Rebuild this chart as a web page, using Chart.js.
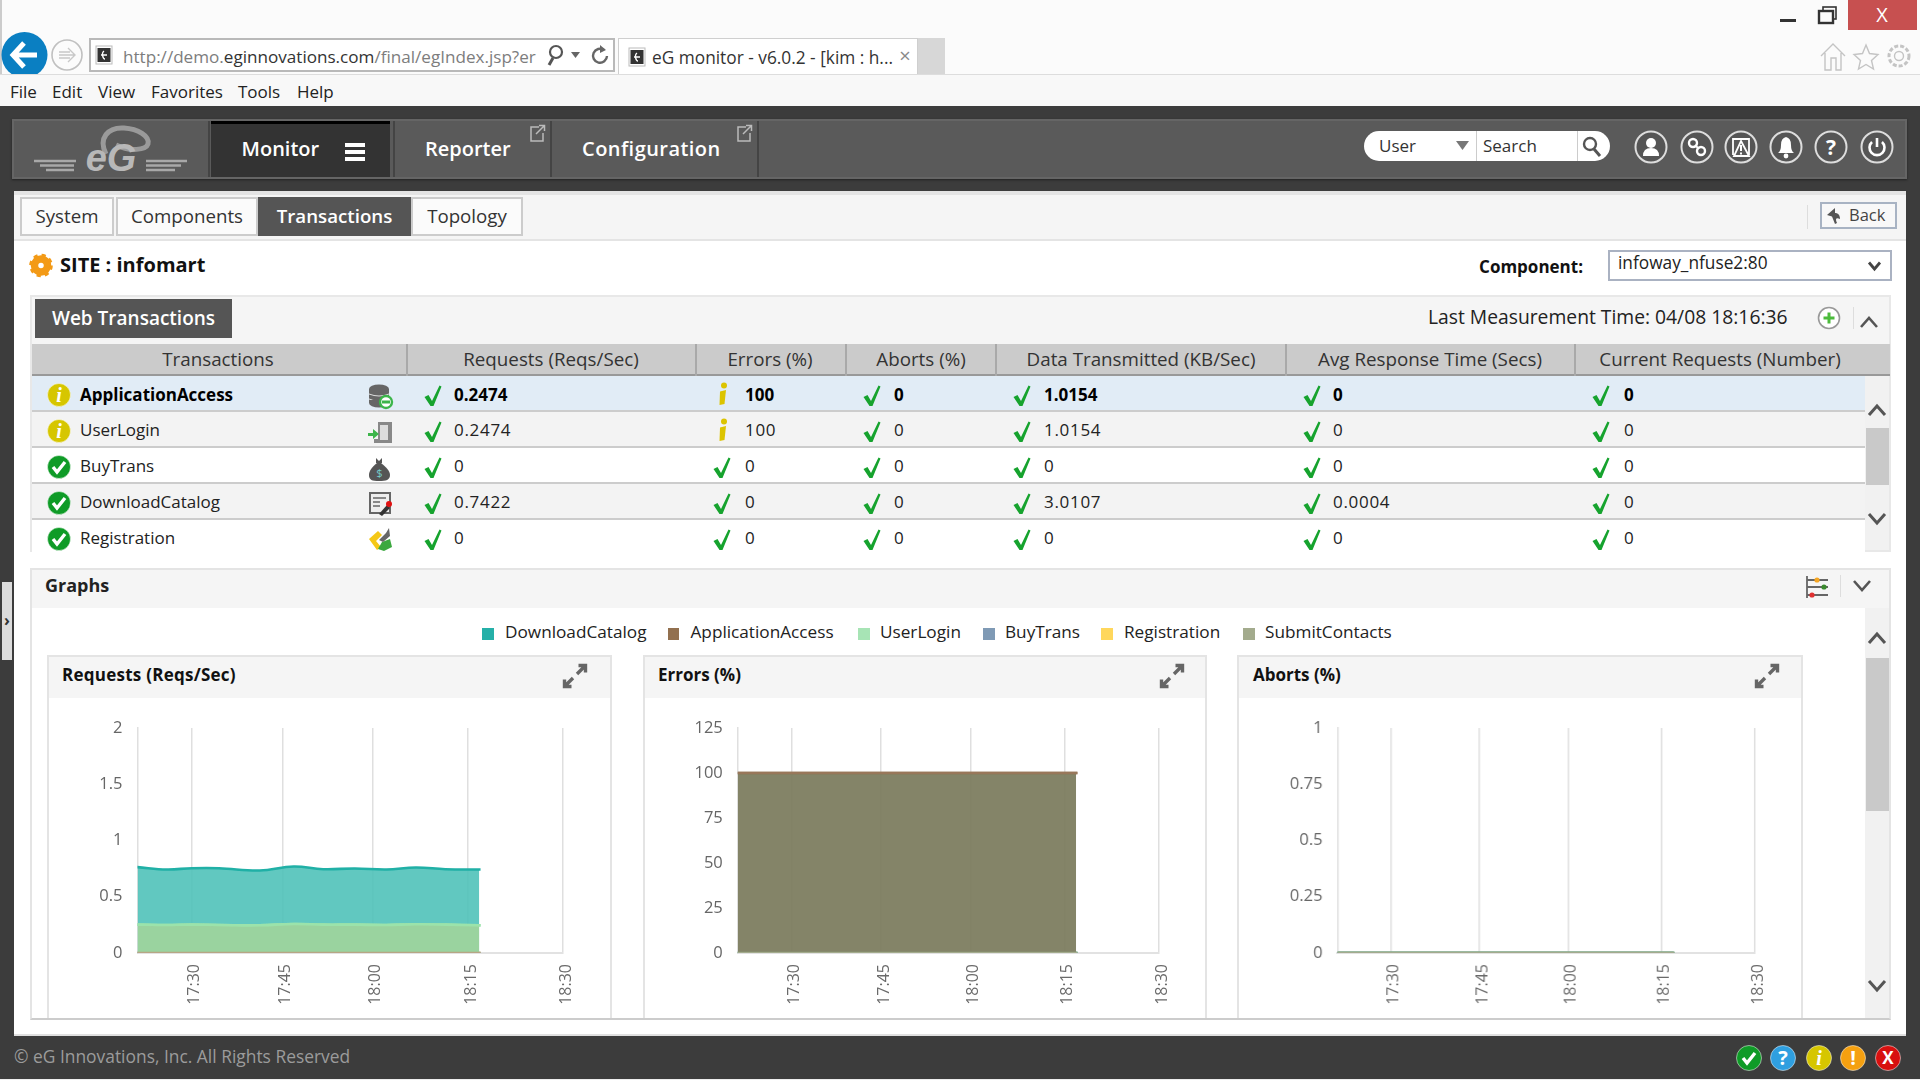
<!DOCTYPE html>
<html><head><meta charset="utf-8">
<style>
html,body{margin:0;padding:0;width:1920px;height:1080px;overflow:hidden;background:#fbfbfb;font-family:"Open Sans",sans-serif;color:#222}
.b{position:absolute;box-sizing:border-box}
.t{position:absolute;white-space:nowrap;line-height:1}
svg{position:absolute;overflow:visible}
canvas{position:absolute}
</style>
<script src="https://cdn.jsdelivr.net/npm/chart.js@4/dist/chart.umd.min.js"></script>
</head><body>
<script>
// ---- chart data ----
const seriesNames=['DownloadCatalog','ApplicationAccess','UserLogin','BuyTrans','Registration','SubmitContacts'];
const seriesColors=['#25b0a8','#92704f','#a7e4b5','#7f9ab5','#ffd75c','#a3ab8d'];
const sampleX=[0,6.5,12,18,27,34.5,41,48,55,61.5,68,75.5];
const tickSamples=[12,32,52,73,94];
const tickLabels=['17:30','17:45','18:00','18:15','18:30'];
const requestsDownload=[0.763,0.742,0.754,0.754,0.733,0.769,0.745,0.751,0.742,0.76,0.745,0.742];
const requestsUserLogin=[0.252,0.249,0.252,0.249,0.246,0.258,0.252,0.252,0.249,0.255,0.252,0.246];
const requestsZero=[0,0,0,0,0,0,0,0,0,0,0,0];
const errorsApplication=[100,100,100,100,100,100,100,100,100,100,100,100];
const errorsZero=[0,0,0,0,0,0,0,0,0,0,0,0];
const abortsZero=[0,0,0,0,0,0,0,0,0,0,0,0];
const requestsTicks=[0,0.5,1,1.5,2];
const errorsTicks=[0,25,50,75,100,125];
const abortsTicks=[0,0.25,0.5,0.75,1];
// ---- table data ----
const tableHeaders=['Transactions','Requests (Reqs/Sec)','Errors (%)','Aborts (%)','Data Transmitted (KB/Sec)','Avg Response Time (Secs)','Current Requests (Number)'];
const rowNames=['ApplicationAccess','UserLogin','BuyTrans','DownloadCatalog','Registration'];
const rowState=['info','info','ok','ok','ok'];
const colRequests=['0.2474','0.2474','0','0.7422','0'];
const colErrors=['100','100','0','0','0'];
const colAborts=['0','0','0','0','0'];
const colData=['1.0154','1.0154','0','3.0107','0'];
const colResponse=['0','0','0','0.0004','0'];
const colCurrent=['0','0','0','0','0'];

const FS='"Open Sans",sans-serif';
function box(x,y,w,h,css){const d=document.createElement('div');d.className='b';d.style.cssText=`left:${x}px;top:${y}px;width:${w}px;height:${h}px;${css||''}`;document.body.appendChild(d);return d;}
function text(s,x,cy,size,o){o=o||{};const d=document.createElement('div');d.className='t';d.textContent=s;
 let tx=o.center?'translate(-50%,-50%)':o.right?'translate(-100%,-50%)':'translateY(-50%)';
 d.style.cssText=`left:${x}px;top:${cy}px;font-size:${size}px;font-weight:${o.w||400};color:${o.c||'#222'};transform:${tx};letter-spacing:${o.ls||0}px;${o.css||''}`;
 document.body.appendChild(d);return d;}
function svg(x,y,w,h,inner){const s=document.createElementNS('http://www.w3.org/2000/svg','svg');s.setAttribute('width',w);s.setAttribute('height',h);s.setAttribute('viewBox',`0 0 ${w} ${h}`);s.style.left=x+'px';s.style.top=y+'px';s.innerHTML=inner;document.body.appendChild(s);return s;}
const chev=(cx,cy,up,c,w)=>svg(cx-10,cy-8,20,16,`<path d="${up?'M2 13L10 4L18 13':'M2 3L10 12L18 3'}" fill="none" stroke="${c||'#555'}" stroke-width="${w||3}"/>`);
const check=(cx,cy)=>svg(cx-9,cy-11,18,22,`<path d="M0.5 12L4.5 10L8 16L15.5 0.5L17.5 1.5L9.5 21L6.5 21Z" fill="#16a32e"/>`);
const statusDot=(cx,cy,kind,rx,ry)=>{rx=rx||12;ry=ry||12;
 const fill={ok:'#0f9b27',info:'#d6c600',help:'#2f9fe0',warn:'#f5a010',err:'#d8100f'}[kind];
 const g={ok:`<path d="M${rx-6} ${ry}l4 5l8 -10" fill="none" stroke="#fff" stroke-width="3.4"/>`,
  info:`<text x="${rx}" y="${ry+7}" font-size="20" font-style="italic" font-weight="700" font-family="Liberation Serif" text-anchor="middle" fill="#fff">i</text>`,
  help:`<text x="${rx}" y="${ry+7}" font-size="20" font-weight="700" font-family="Open Sans" text-anchor="middle" fill="#fff">?</text>`,
  warn:`<text x="${rx}" y="${ry+7}" font-size="20" font-weight="700" font-family="Open Sans" text-anchor="middle" fill="#fff">!</text>`,
  err:`<text x="${rx}" y="${ry+6}" font-size="17" font-weight="700" font-family="Open Sans" text-anchor="middle" fill="#fff">X</text>`}[kind];
 svg(cx-rx,cy-ry,rx*2,ry*2,`<ellipse cx="${rx}" cy="${ry}" rx="${rx-.5}" ry="${ry-.5}" fill="${fill}" stroke="#fff" stroke-opacity=".5"/>${g}`);};

// ---- browser chrome ----
box(0,0,1920,74,'background:#fbfbfb');
box(0,0,2,106,'background:#ccc');
box(1848,0,69,30,'background:#c75050');
text('X',1882,15,20,{center:1,c:'#fff'});
box(1780,19,16,3,'background:#333');
svg(1818,6,20,18,`<rect x="5" y="1" width="13" height="12" fill="none" stroke="#333" stroke-width="1.6"/><rect x="1" y="5" width="14" height="12" fill="#fbfbfb" stroke="#333" stroke-width="2.4"/>`);
svg(1,31,48,48,`<circle cx="23.5" cy="24" r="23" fill="#0a7fc2"/><path d="M13 24H36M23 12L12 24L23 36" fill="none" stroke="#fff" stroke-width="5"/>`);
svg(51,39,32,32,`<circle cx="16" cy="16" r="15" fill="#fbfbfb" stroke="#c0c0c0" stroke-width="1.6"/><path d="M8 16H23M17 9L24 16L17 23M8 13H19M8 19H19" fill="none" stroke="#c8c8c8" stroke-width="1.4"/>`);
box(89,38,526,34,'background:#fff;border:2px solid #b9b9b9');
const fav=(x,y)=>svg(x,y,18,20,`<rect x="1" y="1" width="16" height="18" fill="#fff" stroke="#bbb"/><rect x="2.5" y="3" width="13" height="14" fill="#333"/><path d="M6 10H12M9 6C6 8 8 14 10 14" fill="none" stroke="#fff" stroke-width="1.3"/>`);
fav(95,45);
const urlHead=text('http://demo.',123,57,17.1,{c:'#7d7d7d'});
const urlA=text('eginnovations.com',0,57,17.1,{c:'#333'});
const urlB=text('/final/egIndex.jsp?er',0,57,17.1,{c:'#7d7d7d'});
svg(544,44,22,24,`<circle cx="12" cy="8" r="6" fill="none" stroke="#555" stroke-width="2.2"/><path d="M9 14L5 21" stroke="#555" stroke-width="3"/>`);
svg(571,51,10,8,`<path d="M0 1H9L4.5 7Z" fill="#666"/>`);
svg(591,44,18,22,`<path d="M13 6A7 7 0 1 0 16 12" fill="none" stroke="#666" stroke-width="2.4"/><path d="M9 1L15 6L9 9Z" fill="#666"/>`);
box(618,38,300,36,'background:#fff;border:1px solid #cfcfcf;border-bottom:0');
fav(628,47);
text('eG monitor - v6.0.2 - [kim : h...',652,57.5,17.3,{c:'#333'});
text('×',905,56,20,{center:1,c:'#8a8a8a'});
box(918,38,27,36,'background:#d7d7d7');
svg(1819,42,28,30,`<path d="M2 14L14 2L26 14M6 11V28H12V16H17V28H22V11" fill="#fbfbfb" stroke="#c4c4c4" stroke-width="1.4"/>`);
svg(1853,43,26,28,`<path d="M13 2L16.5 10.5L25 11.5L18.5 17.5L20.5 26L13 21.5L5.5 26L7.5 17.5L1 11.5L9.5 10.5Z" fill="#fbfbfb" stroke="#c4c4c4" stroke-width="1.4"/>`);
svg(1887,43,26,28,`<circle cx="12" cy="13" r="10" fill="none" stroke="#c4c4c4" stroke-width="3" stroke-dasharray="4 2"/><circle cx="12" cy="13" r="4.5" fill="none" stroke="#c4c4c4" stroke-width="1.4"/>`);
box(0,74,1920,32,'background:#f8f8f8;border-top:1px solid #ddd');
[['File',10],['Edit',52],['View',98],['Favorites',151],['Tools',238],['Help',297]].forEach(m=>text(m[0],m[1],91,17,{c:'#222'}));

// ---- dark frame + nav ----
box(0,106,1920,974,'background:#3c3c3c');
box(12,119,1895,60,'background:#5a5a5a;border:2px solid #656565;box-shadow:0 1px 2px #222');
svg(34,126,154,46,`<path d="M0 35H42M6 39.5H40M12 44H40M153 35H112M147 39.5H112M141 44H112" stroke="#a8a8a8" stroke-width="2.6"/><path d="M72 28C64 12 74 1 90 2C104 3 116 10 114 18C112 24 96 26 82 19" fill="none" stroke="#9a9a9a" stroke-width="5"/><text x="77" y="45" font-family="Liberation Sans" font-weight="700" font-style="italic" font-size="38" fill="#b8b8b8" text-anchor="middle">eG</text>`);
box(211,121,179,56,'background:#333;border-top:3px solid #000');
text('Monitor',241.5,149,20,{c:'#fff',w:600});
box(345,143,20,3.5,'background:#fff');box(345,150,20,3.5,'background:#fff');box(345,157,20,3.5,'background:#fff');
[208,393,550,757].forEach(x=>box(x,121,2,56,'background:#444'));
text('Reporter',425,149,20,{c:'#fff',w:600});
text('Configuration',582,149,20,{c:'#fff',w:600,ls:.45});
[530,737].forEach(x=>svg(x,124,16,18,`<path d="M9 3H1V17H13V9M6 10L14 2M9 1.5H14.5V7" fill="none" stroke="#bbb" stroke-width="1.5"/>`));
box(1364,131,246,30,'background:#fff;border-radius:15px');
text('User',1379,145,17,{c:'#333'});
svg(1456,141,13,9,`<path d="M0 0H13L6.5 9Z" fill="#777"/>`);
box(1476,131,1,30,'background:#ccc');box(1577,131,1,30,'background:#ccc');
text('Search',1483,145,17,{c:'#333'});
svg(1582,136,20,22,`<circle cx="8" cy="8" r="6" fill="none" stroke="#555" stroke-width="2.4"/><path d="M12 13L18 20" stroke="#555" stroke-width="3"/>`);
const navGlyphs=[
 `<circle cx="17" cy="13" r="5" fill="#fff"/><path d="M9 26Q9 18 17 18Q25 18 25 26Z" fill="#fff"/>`,
 `<circle cx="13" cy="13" r="4" fill="none" stroke="#fff" stroke-width="2.4"/><circle cx="21" cy="21" r="4" fill="none" stroke="#fff" stroke-width="2.4"/><path d="M15 15L19 19" stroke="#fff" stroke-width="2"/>`,
 `<path d="M9 25V9H25V25M17 11L25 26H10Z" fill="#5a5a5a" stroke="#fff" stroke-width="1.8"/><path d="M17 15V21M17 22.5V24.5" stroke="#fff" stroke-width="2"/>`,
 `<path d="M17 7Q12 8 12 15Q12 21 9 23H25Q22 21 22 15Q22 8 17 7Z" fill="#fff"/><circle cx="17" cy="26" r="2.4" fill="#fff"/>`,
 `<text x="17" y="25" text-anchor="middle" font-size="21" font-weight="700" font-family="Open Sans" fill="#fff">?</text>`,
 `<path d="M12 12A7.5 7.5 0 1 0 22 12" fill="none" stroke="#fff" stroke-width="2.6"/><path d="M17 8V17" stroke="#fff" stroke-width="2.6"/>`];
[1651,1697,1741,1786,1831,1877].forEach((x,i)=>svg(x-17,130,34,34,`<circle cx="17" cy="17" r="15.5" fill="#555" stroke="#ddd" stroke-width="2"/>${navGlyphs[i]}`));

// ---- main white content ----
box(14,191,1892,845,'background:#fff');
box(14,191,1892,4,'background:#e4e4e4');
box(14,195,1892,44,'background:#f5f5f5');
box(14,239,1892,2,'background:#e4e4e4');
const tab=(x,w,s,act)=>{box(x,197,w,39,act?'background:#555':'background:#fbfbfb;border:2px solid #ccc');text(s,x+w/2,216,18.7,{center:1,c:act?'#fff':'#333',w:act?600:400});};
tab(20,94,'System');tab(116,142,'Components');tab(411,112,'Topology');tab(258,153,'Transactions',1);
box(1807,205,1,24,'background:#ddd');
box(1820,202,77,27,'background:#f8f8f8;border:2px solid #a8b3c3');
svg(1826,207,17,18,`<path d="M9 1L1 8L6 9.5L9 17L11 16C9 12 10 10 14 12C14 8 12 6 9 6Z" fill="#555"/>`);
text('Back',1849,214.5,16.5,{c:'#444'});
svg(29,253,24,25,`<circle cx="12" cy="12.5" r="6.5" fill="none" stroke="#f39a16" stroke-width="7.5"/><circle cx="12" cy="12.5" r="10" fill="none" stroke="#f39a16" stroke-width="3.6" stroke-dasharray="4 3.9"/>`);
text('SITE : infomart',60,265,20,{w:700,c:'#111'});
text('Component:',1583,266,17,{right:1,w:700,c:'#111'});
box(1608,250,284,31,'background:#fff;border:2.5px solid #aab2c2');
text('infoway_nfuse2:80',1618,263,17.3,{c:'#222'});
svg(1868,261,13,10,`<path d="M1 1.5L6.5 8L12 1.5" fill="none" stroke="#444" stroke-width="2.8"/>`);

// web transactions panel
box(30,295,1861,257,'background:#f5f5f5;border:2px solid #e8e8e8');
box(35,299,197,39,'background:#555');
text('Web Transactions',133.5,318,19,{center:1,c:'#fff',w:600});
text('Last Measurement Time: 04/08 18:16:36',1428,317,19.3,{c:'#222'});
svg(1817,306,24,24,`<circle cx="12" cy="12" r="10.5" fill="#fff" stroke="#999" stroke-width="1.6"/><path d="M12 6.5V17.5M6.5 12H17.5" stroke="#4cbb3c" stroke-width="3"/>`);
box(1853,307,1,22,'background:#ddd');
chev(1869,322,1,'#555',2.6);
box(32,344,1858,32,'background:#cbcbcb;border-bottom:2px solid #999');
const colEdges=[406,695,845,995,1285,1574];
colEdges.forEach(x=>box(x,344,1.5,32,'background:#a9a9a9'));
[218,551,770,921,1141,1430,1720].forEach((x,i)=>text(tableHeaders[i],x,359,18.8,{center:1,c:'#333'}));
const rowTops=[376,412,448,484,520],rowH=[36,36,36,36,32],rowBg=['#e1ecf6','#f3f3f3','#fff','#f3f3f3','#fff'];
const columns=[colRequests,colErrors,colAborts,colData,colResponse,colCurrent];
const checkX=[433,722,872,1022,1312,1601],valX=[454,745,894,1044,1333,1624];
const cy=[394,430,466,502,538];
rowNames.forEach((n,r)=>{
 box(32,rowTops[r],1833,rowH[r],`background:${rowBg[r]};${r<4?'border-bottom:2.5px solid #ccc':''}`);
 statusDot(59,cy[r]+.5,rowState[r],12,12);
 text(n,80,r==0?cy[r]-.5:cy[r]-1.5,17,{w:r==0?700:400,c:r==0?'#000':'#222'});
 columns.forEach((col,c)=>{
  if(col[r]==='100'){svg(checkX[c]-5,cy[r]-12,11,24,`<circle cx="7" cy="3.5" r="3" fill="#dcc400"/><path d="M3 9.5L9 8L7.5 22L2.5 23Z" fill="#dcc400"/>`);}
  else check(checkX[c],cy[r]+2);
  text(col[r],valX[c],r==0?cy[r]-.5:cy[r]-1.5,17,{w:r==0?700:400,c:r==0?'#000':'#222',ls:r==0?0:.7});
 });
});
// row type icons
svg(368,384,24,24,`<ellipse cx="11" cy="5" rx="10" ry="4.5" fill="#666"/><rect x="1" y="5" width="20" height="14" fill="#666"/><path d="M1 10Q11 14 21 10M1 15Q11 19 21 15" stroke="#ddd" fill="none"/><ellipse cx="11" cy="19" rx="10" ry="4.5" fill="#666"/><circle cx="18" cy="18" r="6" fill="#fff" stroke="#3cb54a" stroke-width="2.4"/><path d="M14 18H22" stroke="#3cb54a" stroke-width="3"/>`);
svg(368,421,24,24,`<path d="M10 1H24V22H6V18H10Z" fill="#888"/><path d="M12 4H20V19H12Z" fill="#ddd"/><path d="M0 12H5V8L11 13L5 18V15H0Z" fill="#3cb54a"/>`);
svg(368,457,24,24,`<path d="M8 1L11 4L14 1L14 6H8Z" fill="#555"/><path d="M9 6H13C18 10 22 14 22 18C22 23 18 24 11 24C4 24 1 23 1 18C1 14 4 10 9 6Z" fill="#555"/><text x="11.5" y="20" font-size="11" font-family="Open Sans" text-anchor="middle" fill="#7cc">$</text>`);
svg(368,492,24,24,`<rect x="2" y="1" width="20" height="20" fill="#eee" stroke="#666" stroke-width="2"/><path d="M5 6H18M5 10H12M5 14H12" stroke="#888" stroke-width="2"/><path d="M11 22L19 13L22 16L14 24Z" fill="#333"/><circle cx="21" cy="12" r="3" fill="#e01010"/>`);
svg(368,527,24,24,`<path d="M1 12L10 4L14 8L8 14L13 20L9 23Z" fill="#f5c816"/><path d="M10 22L14 15L22 12L24 20L16 24Z" fill="#3ba83f"/><path d="M11 13L18 6L21 1L22 9L15 15Z" fill="#666"/>`);
box(1865,376,24,174,'background:#f1f1f1');
chev(1877,410,1,'#555',3);
box(1866,428,23,57,'background:#c9c9c9');
chev(1877,519,0,'#555',3);

// graphs panel
box(14,552,1892,16,'background:#fff');
box(30,568,1861,452,'background:#fff;border:2px solid #e4e4e4;border-bottom-color:#ccc');
box(32,570,1857,38,'background:#f5f5f5');
text('Graphs',45,585,18,{w:700,c:'#222'});
svg(1804,575,26,24,`<path d="M3 1V23M3 5H24M3 12H24M3 20H24" stroke="#666" stroke-width="1.8" fill="none"/><circle cx="13" cy="5" r="2.6" fill="#f5a623"/><circle cx="20" cy="12" r="2.6" fill="#3a8a2e"/><circle cx="8" cy="20" r="2.6" fill="#e03030"/>`);
box(1840,575,1,22,'background:#ddd');
chev(1862,586,0,'#555',2.6);
const legendMarkX=[482,667.5,858,983,1101,1243],legendTextX=[505,690.5,880,1005,1124,1265];
seriesNames.forEach((n,i)=>{box(legendMarkX[i],628,11.5,11.5,`background:${seriesColors[i]}`);text(n,legendTextX[i],631.5,17.2,{c:'#222'});});
box(1865,608,24,410,'background:#f1f1f1');
chev(1877,638,1,'#555',3);
box(1866,658,23,153,'background:#c9c9c9');
chev(1877,986,0,'#555',3);

// left handle
box(2,582,10,78,'background:#dcdcdc');
text('›',7,620,16,{center:1,c:'#333',w:700});
// footer
box(14,1034,1892,2,'background:#e0e0e0');
box(0,1079,1920,1,'background:#eee');
text('© eG Innovations, Inc. All Rights Reserved',14,1057,17.4,{c:'#9b9b9b'});
[['ok',1749],['help',1783],['info',1818.5],['warn',1853],['err',1887.5]].forEach(d=>statusDot(d[1],1058,d[0],13,13));

// ---- chart panels ----
const expand=(cx)=>svg(cx-12,664,24,24,`<path d="M14 10L22 2M15.5 1.5H22.5V8.5M10 14L2 22M8.5 22.5H1.5V15.5" fill="none" stroke="#666" stroke-width="3.4"/>`);
function panel(o){
 box(o.left,655,o.right-o.left,363,'background:#fff;border:2px solid #e4e4e4;border-bottom:0');
 box(o.left+2,657,o.right-o.left-4,41,'background:#f5f5f5');
 text(o.title,o.titleX,673.5,17,{w:700,c:'#111',ls:o.ls||0});
 expand(o.iconX);
 const c=document.createElement('canvas');
 const W=o.right-o.left,H=320;
 c.width=W;c.height=H;
 c.style.cssText=`left:${o.left}px;top:698px;width:${W}px;height:${H}px`;
 document.body.appendChild(c);
 new Chart(c,{type:'line',
  data:{datasets:o.series.map((s,i)=>({label:s.name,data:sampleX.map((x,k)=>({x,y:s.values[k]})),borderColor:s.line,borderWidth:2.6,
    backgroundColor:s.fill||'transparent',fill:s.fill?'origin':false,pointRadius:0,tension:0.4,order:i,borderCapStyle:'square'}))},
  options:{responsive:false,animation:false,devicePixelRatio:1,
   layout:{padding:{top:30,right:o.padR,bottom:0,left:0}},
   plugins:{legend:{display:false},tooltip:{enabled:false}},
   scales:{
    x:{type:'linear',min:0,max:94,
     afterBuildTicks:a=>{a.ticks=tickSamples.map(v=>({value:v}));},
     afterFit:a=>{a.height=65;},
     grid:{color:'#dfdfdf',lineWidth:1.5,drawTicks:false},
     border:{color:'#e2e2e2',width:2},
     ticks:{autoSkip:false,minRotation:90,maxRotation:90,padding:11,labelOffset:3,color:'#6a6a6a',font:{family:FS,size:16},
      callback:v=>tickLabels[tickSamples.indexOf(v)]}},
    y:{min:0,max:o.ticks[o.ticks.length-1],
     afterBuildTicks:a=>{a.ticks=o.ticks.map(v=>({value:v}));},
     afterFit:a=>{a.width=o.yWidth;},
     grid:{display:false},
     border:{color:'#dfdfdf',width:1.5},
     ticks:{padding:7,color:'#666',font:{family:FS,size:16.5},callback:v=>String(v)}}
   }}});
}
const zeroLine=seriesColors[5];
panel({left:47,right:612,padR:49,title:'Requests (Reqs/Sec)',titleX:62,iconX:575,yWidth:90.5,ls:.25,ticks:requestsTicks,series:[
 {name:'SubmitContacts',values:requestsZero,line:'#b7a684'},
 {name:seriesNames[2],values:requestsUserLogin,line:'#9be3ab',fill:'rgba(159,212,156,.92)'},
 {name:seriesNames[1],values:requestsUserLogin,line:'#9be3ab'},
 {name:seriesNames[0],values:requestsDownload,line:'#20b0a6',fill:'rgba(80,194,185,.9)'},
 {name:seriesNames[3],values:requestsZero,line:seriesColors[3]},
 {name:seriesNames[4],values:requestsZero,line:seriesColors[4]}]});
panel({left:642.5,right:1207,padR:48,title:'Errors (%)',titleX:658,iconX:1172,yWidth:94.8,ticks:errorsTicks,series:[
 {name:'SubmitContacts',values:errorsZero,line:zeroLine},
 {name:seriesNames[1],values:errorsApplication,line:'#98775a',fill:'rgba(121,121,91,.92)'},
 {name:seriesNames[2],values:errorsApplication,line:'#98775a'},
 {name:seriesNames[0],values:errorsZero,line:seriesColors[0]},
 {name:seriesNames[3],values:errorsZero,line:seriesColors[3]},
 {name:seriesNames[4],values:errorsZero,line:seriesColors[4]}]});
panel({left:1237,right:1802.6,padR:48,title:'Aborts (%)',titleX:1253,iconX:1767,yWidth:100.4,ticks:abortsTicks,series:[
 {name:'SubmitContacts',values:abortsZero,line:zeroLine},
 {name:seriesNames[0],values:abortsZero,line:seriesColors[0]},
 {name:seriesNames[1],values:abortsZero,line:seriesColors[1]},
 {name:seriesNames[2],values:abortsZero,line:seriesColors[2]},
 {name:seriesNames[3],values:abortsZero,line:seriesColors[3]},
 {name:seriesNames[4],values:abortsZero,line:seriesColors[4]}]});
// place the URL parts one after another
const urlLeft=123+urlHead.getBoundingClientRect().width;
urlA.style.left=urlLeft+'px';
urlB.style.left=(urlLeft+urlA.getBoundingClientRect().width)+'px';
</script>
</body></html>
